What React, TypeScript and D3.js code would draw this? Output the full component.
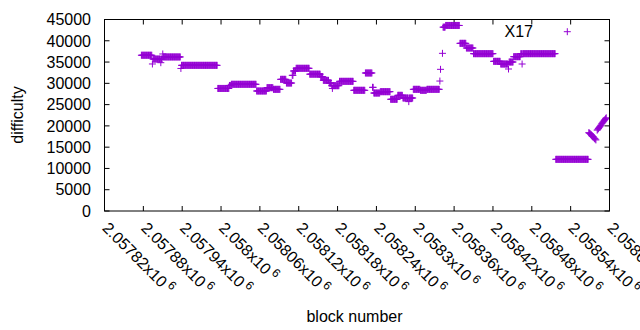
import React from 'react';
import * as d3 from 'd3';

const width = 640;
const height = 330;
const frame = { left: 104.5, right: 609.5, top: 19.5, bottom: 211 };
const font = '"Liberation Sans", Arial, sans-serif';
const purple = '#9400d3';

const seriesName = 'X17';

// runs of blocks that share the same difficulty (first block, number of blocks, difficulty)
const runStart = [
  2057877, 2057894, 2057895, 2057907, 2057908, 2057910, 2057911, 2057938, 2057939, 2057995,
  2058013, 2058016, 2058055, 2058071, 2058081, 2058092, 2058101, 2058110, 2058112, 2058116,
  2058137, 2058154, 2058158, 2058167, 2058171, 2058172, 2058173, 2058183, 2058205, 2058223,
  2058234, 2058236, 2058246, 2058262, 2058273, 2058281, 2058290, 2058291, 2058297, 2058308,
  2058318, 2058338, 2058339, 2058342, 2058343, 2058347, 2058369, 2058379, 2058390, 2058421,
  2058432, 2058444, 2058445, 2058452, 2058463, 2058465, 2058466, 2058517,
];
const runLength = [
  17, 1, 12, 1, 2, 1, 27, 1, 56, 18,
  3, 39, 16, 10, 11, 9, 9, 2, 4, 21,
  17, 4, 9, 4, 1, 1, 10, 22, 18, 11,
  2, 10, 16, 11, 8, 9, 1, 6, 11, 10,
  20, 1, 1, 1, 4, 22, 10, 11, 31, 11,
  12, 1, 7, 11, 2, 1, 51, 51,
];
const runDifficulty = [
  36600, 34550, 35700, 34850, 35700, 36900, 36200, 33500, 34230, 28800,
  29500, 29770, 28200, 28980, 28590, 30940, 30070, 31880, 32900, 33530,
  32150, 31560, 30700, 30070, 29450, 28800, 29450, 30470, 28360, 32430,
  29060, 27720, 28040, 26250, 27180, 26550, 25700, 26550, 28590, 28360,
  28590, 30540, 33290, 37050, 43200, 43600, 39400, 38300, 36970, 35170,
  34540, 33370, 35010, 36260, 36970, 34540, 36970, 12140,
];

// last blocks, where the difficulty moves block by block
const tailBlock = [
  2058568, 2058569, 2058570, 2058571, 2058572, 2058573, 2058574, 2058575, 2058576, 2058577,
  2058578, 2058579, 2058581, 2058582, 2058583, 2058584, 2058585, 2058586, 2058587, 2058588,
  2058589, 2058590, 2058591, 2058592, 2058593, 2058594, 2058595,
];
const tailDifficulty = [
  18400, 18300, 18200, 18000, 17900, 17700, 17500, 17400, 17200, 17000,
  16900, 16700, 19000, 19200, 19400, 19600, 19800, 20000, 20200, 20500,
  20700, 20900, 21100, 21300, 21500, 21700, 21900,
];

const xTickValues = [
  2057820, 2057880, 2057940, 2058000, 2058060, 2058120, 2058180,
  2058240, 2058300, 2058360, 2058420, 2058480, 2058540, 2058600,
];
const yTickValues = [0, 5000, 10000, 15000, 20000, 25000, 30000, 35000, 40000, 45000];

const points: { block: number; difficulty: number }[] = [];
runStart.forEach((start, i) => {
  for (let k = 0; k < runLength[i]; k++) {
    points.push({ block: start + k, difficulty: runDifficulty[i] });
  }
});
tailBlock.forEach((b, i) => points.push({ block: b, difficulty: tailDifficulty[i] }));

const x = d3.scaleLinear().domain([2057820, 2058600]).range([frame.left, frame.right]);
const y = d3.scaleLinear().domain([0, 45000]).range([frame.bottom, frame.top]);

const fmt = d3.format('.6~g');
const plus = (cx: number, cy: number, r = 3.5) =>
  `M${cx - r},${cy}h${2 * r}M${cx},${cy - r}v${2 * r}`;

const tickLen = 5;

export default function App() {
  const markPath = points.map(p => plus(x(p.block), y(p.difficulty))).join('');
  return (
    <svg
      width={width}
      height={height}
      style={{ position: 'absolute', left: 0, top: 0, background: '#fff' }}
      fontFamily={font}
    >
      <rect width={width} height={height} fill="#fff" />
      {/* ticks, mirrored on all sides */}
      <g stroke="#000" strokeWidth={1}>
        {yTickValues.map(v => (
          <g key={'y' + v}>
            <line x1={frame.left} x2={frame.left + tickLen} y1={y(v)} y2={y(v)} />
            <line x1={frame.right} x2={frame.right - tickLen} y1={y(v)} y2={y(v)} />
          </g>
        ))}
        {xTickValues.map(v => (
          <g key={'x' + v}>
            <line x1={x(v)} x2={x(v)} y1={frame.bottom} y2={frame.bottom - tickLen} />
            <line x1={x(v)} x2={x(v)} y1={frame.top} y2={frame.top + tickLen} />
          </g>
        ))}
      </g>
      {yTickValues.map(v => (
        <text key={'yl' + v} x={91} y={y(v)} dy="0.36em" textAnchor="end" fontSize={16} fill="#000">
          {v}
        </text>
      ))}
      {xTickValues.map(v => (
        <text
          key={'xl' + v}
          transform={`translate(${x(v) + 1},225) rotate(45)`}
          dy="0.36em"
          fontSize={16}
          fill="#000"
        >
          {fmt(v / 1e6)}x10
          <tspan dx={3} dy={-6} fontSize={12}>6</tspan>
        </text>
      ))}
      <text x={354.5} y={321.5} textAnchor="middle" fontSize={16} fill="#000">
        block number
      </text>
      <text
        transform="translate(22.5,115) rotate(-90)"
        textAnchor="middle"
        fontSize={16}
        fill="#000"
      >
        difficulty
      </text>
      <path d={markPath} stroke={purple} strokeWidth={1} fill="none" />
      {/* key */}
      <text x={533} y={31.7} dy="0.36em" textAnchor="end" fontSize={16} fill="#000">
        {seriesName}
      </text>
      <path d={plus(567.3, 31.7)} stroke={purple} strokeWidth={1} fill="none" />
      <rect
        x={frame.left}
        y={frame.top}
        width={frame.right - frame.left}
        height={frame.bottom - frame.top}
        fill="none"
        stroke="#000"
        strokeWidth={1}
      />
    </svg>
  );
}
